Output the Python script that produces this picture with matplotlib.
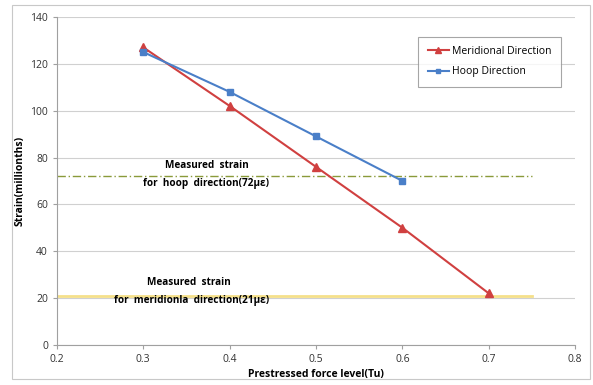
import matplotlib.pyplot as plt

force = [0.3, 0.4, 0.5, 0.6, 0.7]
meridional = [127, 102, 76, 50, 22]
force_hoop = [0.3, 0.4, 0.5, 0.6]
hoop = [125, 108, 89, 70]
hoop_measured = 72
merid_measured = 21

plt.rcParams['font.family'] = ['Open Sans', 'DejaVu Sans']

fig = plt.figure(figsize=(5.93, 3.85), dpi=100)
ax = fig.add_axes([0.096, 0.104, 0.874, 0.852])

# frame round the whole picture
fig.patches.append(plt.Rectangle((0.02, 0.015), 0.975, 0.972, transform=fig.transFigure,
                                 fill=False, edgecolor='#c8c8c8', linewidth=0.8))

ax.set_xlim(0.2, 0.8)
ax.set_ylim(0, 140)
ax.set_xticks([0.2, 0.3, 0.4, 0.5, 0.6, 0.7, 0.8])
ax.set_yticks(range(0, 141, 20))
ax.yaxis.grid(True, color='#d0d0d0', linewidth=0.8)
ax.set_axisbelow(True)
for s in ['top', 'right']:
    ax.spines[s].set_visible(False)
for s in ['left', 'bottom']:
    ax.spines[s].set_color('#a0a0a0')
ax.tick_params(colors='#a0a0a0', labelcolor='#333333', labelsize=7.5, length=3)

ax.plot([0.2, 0.75], [hoop_measured] * 2, color='#8a9a3a', linewidth=1.0,
        linestyle=(0, (6, 2, 1, 2)))
ax.plot([0.2, 0.75], [merid_measured] * 2, color='#f5e08a', linewidth=2.0)

ax.plot(force, meridional, color='#d04040', marker='^', markersize=6,
        linewidth=1.5, label='Meridional Direction')
ax.plot(force_hoop, hoop, color='#4a7fc8', marker='s', markersize=5,
        linewidth=1.5, label='Hoop Direction')

ax.text(0.374, 76.8, 'Measured  strain', ha='center', va='center', fontsize=7.2, fontweight='bold')
ax.text(0.372, 68.7, 'for  hoop  direction(72\u03bc\u03b5)', ha='center', va='center', fontsize=7.2, fontweight='bold')
ax.text(0.353, 26.5, 'Measured  strain', ha='center', va='center', fontsize=7.2, fontweight='bold')
ax.text(0.356, 18.8, 'for  meridionla  direction(21\u03bc\u03b5)', ha='center', va='center', fontsize=7.2, fontweight='bold')

ax.set_xlabel('Prestressed force level(Tu)', fontsize=7.5, fontweight='bold', labelpad=3)
ax.set_ylabel('Strain(millionths)', fontsize=7.5, fontweight='bold', labelpad=3)

leg = ax.legend(loc='upper right', bbox_to_anchor=(0.972, 0.94), fontsize=7.5, frameon=True,
                fancybox=False, edgecolor='#909090', handlelength=2.0, borderpad=0.9,
                labelspacing=0.9, markerscale=0.7, handletextpad=0.3, borderaxespad=0)
leg.get_frame().set_linewidth(0.8)

fig.savefig('out.png', dpi=100)
